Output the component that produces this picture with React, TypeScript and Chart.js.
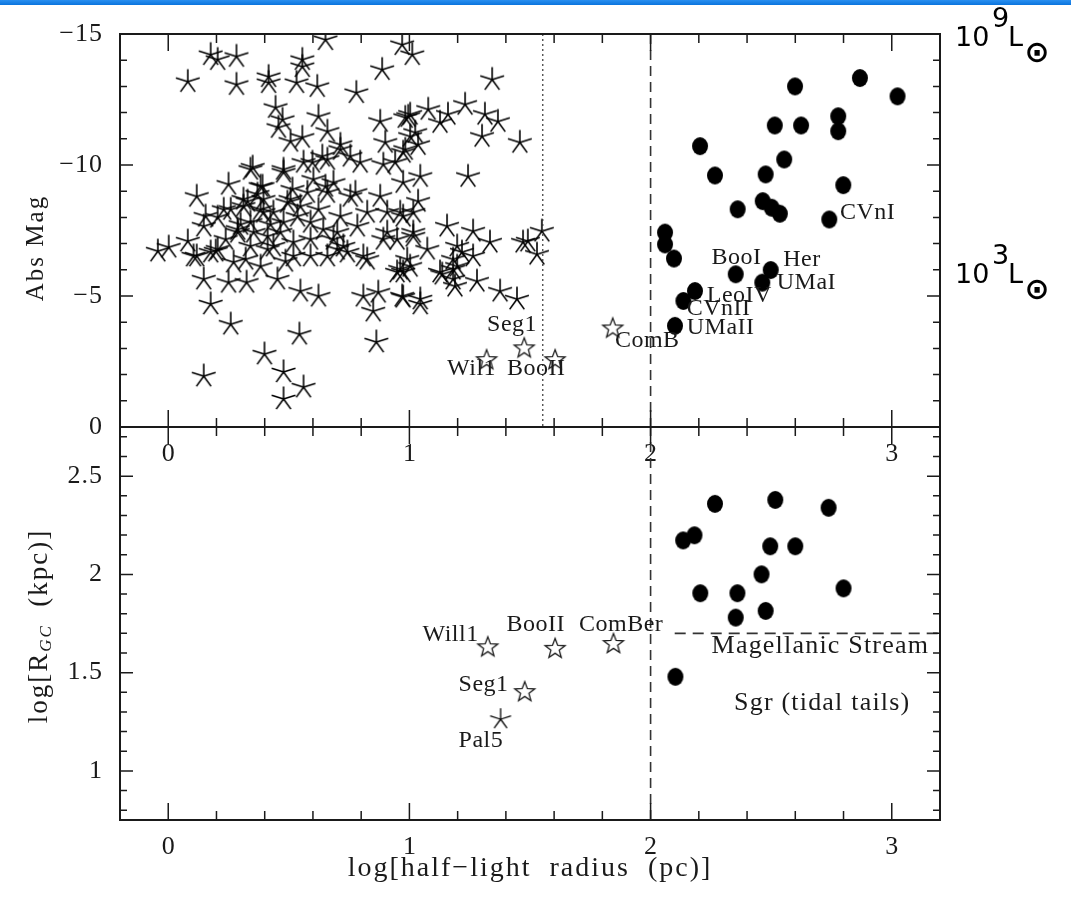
import React, { useEffect, useRef } from 'react';
import { Chart, registerables } from 'chart.js';

Chart.register(...registerables);

const SERIF = "'Liberation Serif', 'DejaVu Serif', serif";
const SANS = "'DejaVu Sans', sans-serif";

// ---------- axes ----------
const X_MIN = -0.2;
const X_MAX = 3.2;
const MAG_MIN = -15;
const MAG_MAX = 0;
const RGC_MIN = 0.75;
const RGC_MAX = 2.75;
const xTickLabels = [0, 1, 2, 3];
const magTickLabels = [-15, -10, -5, 0];
const rgcTickLabels = [1, 1.5, 2, 2.5];

// ---------- top panel: globular clusters (asterisks) ----------
const gcSize = [
  0.081, 0.176, 0.205, 0.283, 0.283, 0.416, 0.416, 0.532, 0.556, 0.556,
  0.618, 0.652, 0.780, 0.887, 0.970, 0.445, 0.474, 0.457, 0.623, 0.660,
  0.507, 0.556, 0.879, 0.714, 0.983, 0.341, 0.250, 0.118, 0.598, 0.660,
  0.755, 0.796, 0.892, 0.941, 0.478, 0.515, 0.652, 0.776, 0.879, 0.962,
  0.391, 0.329, 0.155, 0.825, 0.714, -0.043, 0.002, 0.081, 0.118, 0.147,
  0.147, 0.176, 0.259, 0.147, 0.197, 0.250, 0.325, 0.383, 0.453, 0.548,
  0.623, 0.544, 0.399, 0.478, 0.561, 0.478, 0.809, 0.871, 0.850, 0.863,
  0.974, 0.949, 0.825, 0.892, 0.949, 0.726, 0.660, 0.590, 0.519, 0.288,
  0.341, 0.395, 0.412, 0.478, 0.507, 0.536, 0.590, 0.660, 0.643, 0.714,
  0.755, 0.395, 0.312, 0.230, 0.341, 0.436, 0.590, 0.701, 0.784, 0.908,
  0.974, 0.205, 0.350, 0.383, 0.259, 0.300, 0.205, 0.176, 0.105, 0.271,
  0.478, 0.561, 0.639, 0.436, 0.577, 0.383, 0.288, 0.312, 0.519, 0.412,
  0.701, 0.354, 0.465, 0.494, 0.238, 1.003, 1.078, 1.127, 1.160, 1.231,
  1.313, 1.367, 1.301, 1.458, 1.243, 0.900, 1.003, 1.036, 0.983, 1.045,
  0.974, 1.036, 0.685, 0.908, 1.016, 1.074, 1.156, 1.264, 1.334, 1.198,
  1.264, 1.181, 1.127, 1.280, 1.189, 1.376, 1.446, 1.045, 0.962, 0.991,
  0.809, 0.743, 0.685, 1.471, 1.012, 1.343, 0.995, 1.024, 0.974, 1.016,
  1.218, 1.181, 1.198, 1.136, 1.181, 1.016, 1.003, 0.974, 0.970, 1.045,
  1.549, 1.529, 1.491, 0.424, 0.548, 0.623, 0.321, 0.486, 0.370, 0.602,
];
const gcMag = [
  -13.18, -14.21, -14.02, -14.14, -13.07, -13.37, -13.14, -13.14, -14.02, -13.75,
  -12.99, -14.78, -12.76, -13.64, -14.59, -12.19, -11.73, -11.43, -11.85, -11.28,
  -10.90, -11.05, -11.66, -10.78, -11.81, -9.83, -9.26, -8.80, -10.10, -10.21,
  -10.33, -10.10, -10.02, -10.10, -9.83, -9.07, -9.18, -8.95, -8.80, -8.19,
  -9.18, -8.61, -8.04, -8.19, -10.59, -6.71, -6.86, -7.09, -6.52, -7.66,
  -5.64, -4.69, -3.92, -1.94, -6.71, -5.52, -5.52, -6.13, -5.64, -5.18,
  -4.99, -3.54, -2.78, -2.10, -1.52, -1.07, -4.99, -5.14, -4.42, -3.24,
  -4.95, -5.91, -6.40, -7.16, -7.16, -6.90, -6.52, -6.52, -6.52, -7.54,
  -7.81, -8.19, -7.28, -7.81, -8.69, -8.04, -7.81, -8.95, -7.54, -8.04,
  -8.80, -8.69, -8.42, -8.30, -6.90, -6.90, -7.16, -7.43, -7.66, -8.19,
  -8.04, -8.00, -9.91, -9.18, -8.30, -7.73, -6.78, -6.67, -6.52, -6.29,
  -9.72, -10.10, -10.33, -8.19, -8.95, -8.30, -7.43, -8.69, -7.05, -6.78,
  -6.78, -7.43, -7.43, -8.57, -7.16, -11.93, -12.12, -11.62, -11.93, -12.31,
  -11.93, -11.66, -11.09, -10.86, -9.56, -10.86, -11.09, -10.78, -10.59, -9.56,
  -9.33, -8.61, -9.33, -7.43, -7.43, -6.78, -7.66, -7.47, -7.05, -6.90,
  -6.52, -6.02, -5.91, -5.56, -5.37, -5.18, -4.88, -4.88, -6.02, -6.40,
  -6.52, -6.67, -7.16, -7.05, -14.21, -13.26, -11.85, -11.24, -10.48, -8.19,
  -6.67, -6.40, -6.13, -5.83, -5.64, -7.28, -6.13, -5.91, -4.99, -4.69,
  -7.47, -6.59, -7.09, -7.73, -8.42, -8.30, -6.40, -6.32, -8.88, -9.45,
];

// ---------- top panel: dwarf spheroidals (filled) ----------
const dsphSizeTop = [
  2.599, 2.868, 3.024, 2.515, 2.624, 2.778, 2.778, 2.205, 2.554, 2.267,
  2.477, 2.799, 2.361, 2.465, 2.502, 2.536, 2.741, 2.060, 2.060, 2.097,
  2.353, 2.498, 2.463, 2.184, 2.136, 2.101,
];
const dsphMagTop = [
  -13.00, -13.32, -12.62, -11.51, -11.51, -11.86, -11.29, -10.72, -10.21, -9.60,
  -9.64, -9.23, -8.31, -8.62, -8.37, -8.14, -7.92, -7.42, -6.97, -6.43,
  -5.83, -5.99, -5.51, -5.19, -4.81, -3.86,
];

// ---------- top panel: ultra-faint objects (open stars) ----------
const ufdSizeTop = [1.320, 1.476, 1.604, 1.843];
const ufdMagTop = [-2.59, -3.04, -2.59, -3.80];

// ---------- top panel labels ----------
const topNames = ['Seg1', 'Wil1', 'BooII', 'ComB', 'BooI', 'Her', 'UMaI', 'LeoIV', 'CVnII', 'UMaII', 'CVnI'];
const topNameSize = [1.322, 1.156, 1.405, 1.852, 2.253, 2.550, 2.523, 2.233, 2.150, 2.150, 2.785];
const topNameMag = [-3.92, -2.21, -2.21, -3.28, -6.48, -6.37, -5.51, -5.00, -4.50, -3.80, -8.18];

// ---------- bottom panel ----------
const dsphSizeBot = [2.267, 2.517, 2.738, 2.135, 2.182, 2.496, 2.600, 2.460, 2.206, 2.360, 2.800, 2.477, 2.353, 2.103];
const dsphRgcBot = [2.359, 2.379, 2.339, 2.173, 2.199, 2.143, 2.143, 2.000, 1.904, 1.904, 1.929, 1.814, 1.780, 1.479];
const ufdSizeBot = [1.325, 1.604, 1.846, 1.478];
const ufdRgcBot = [1.634, 1.626, 1.651, 1.406];
const pal5Size = [1.378];
const pal5Rgc = [1.263];

const botNames = ['Will1', 'BooII', 'ComBer', 'Seg1', 'Pal5', 'Magellanic Stream', 'Sgr (tidal tails)'];
const botNameSize = [1.054, 1.403, 1.703, 1.204, 1.204, 2.253, 2.346];
const botNameRgc = [1.693, 1.744, 1.744, 1.440, 1.152, 1.634, 1.347];

// reference lines
const sizeDivide = 2.0;
const sizeDotted = 1.553;
const streamRgc = 1.7;
const streamSizeStart = 2.1;

// ---------- layout ----------
const W = 1071;
const H = 903;
const LEFT = 120;
const RIGHT = 940;
const TOP = 34;
const MID = 427;
const BOTTOM = 820;

function makeAsterisk(arm: number, lw: number) {
  const s = Math.ceil(arm * 2 + 6);
  const size = s % 2 ? s + 1 : s;
  const c = document.createElement('canvas');
  c.width = size; c.height = size;
  const ctx = c.getContext('2d')!;
  ctx.strokeStyle = '#000';
  ctx.lineWidth = lw;
  ctx.beginPath();
  for (let k = 0; k < 5; k++) {
    const a = -Math.PI / 2 + (k * 2 * Math.PI) / 5;
    ctx.moveTo(size / 2, size / 2);
    ctx.lineTo(size / 2 + arm * Math.cos(a), size / 2 + arm * Math.sin(a));
  }
  ctx.stroke();
  return c;
}

function makeOpenStar(R: number, r: number, lw: number) {
  const size = Math.ceil(R * 2 + 6) + (Math.ceil(R * 2 + 6) % 2);
  const c = document.createElement('canvas');
  c.width = size; c.height = size;
  const ctx = c.getContext('2d')!;
  ctx.strokeStyle = '#1a1a1a';
  ctx.lineWidth = lw;
  ctx.beginPath();
  for (let k = 0; k < 10; k++) {
    const a = -Math.PI / 2 + (k * Math.PI) / 5;
    const rr = k % 2 === 0 ? R : r;
    const px = size / 2 + rr * Math.cos(a);
    const py = size / 2 + 1 + rr * Math.sin(a);
    if (k === 0) ctx.moveTo(px, py); else ctx.lineTo(px, py);
  }
  ctx.closePath();
  ctx.stroke();
  return c;
}

function makeDot(rx: number, ry: number) {
  const size = Math.ceil(Math.max(rx, ry) * 2 + 4);
  const s2 = size % 2 ? size + 1 : size;
  const c = document.createElement('canvas');
  c.width = s2; c.height = s2;
  const ctx = c.getContext('2d')!;
  ctx.fillStyle = '#000';
  ctx.beginPath();
  ctx.ellipse(s2 / 2, s2 / 2, rx, ry, 0, 0, Math.PI * 2);
  ctx.fill();
  return c;
}

function txt(ctx: CanvasRenderingContext2D, s: string, x: number, y: number, font: string,
  align: CanvasTextAlign = 'left', baseline: CanvasTextBaseline = 'middle', spacing = 0) {
  ctx.font = font;
  (ctx as any).letterSpacing = spacing + 'px';
  ctx.textAlign = align;
  ctx.textBaseline = baseline;
  ctx.fillText(s, x, y);
  (ctx as any).letterSpacing = '0px';
}

function fmtTick(v: number) {
  return v < 0 ? '\u2212' + String(-v) : String(v);
}

function drawFrame(chart: any, yStep: number, yMajor: number) {
  const { ctx, chartArea: a } = chart;
  const xs = chart.scales.x;
  const ys = chart.scales.y;
  ctx.save();
  ctx.strokeStyle = '#1a1a1a';
  ctx.lineWidth = 1.5;
  ctx.beginPath();
  for (let i = -2; i <= 20; i++) {
    const v = i * 0.2;
    if (v <= xs.min + 1e-6 || v >= xs.max - 1e-6) continue;
    const px = xs.getPixelForValue(v);
    const major = i % 5 === 0;
    const L = major ? 17 : 9;
    ctx.moveTo(px, a.bottom); ctx.lineTo(px, a.bottom - L);
    ctx.moveTo(px, a.top); ctx.lineTo(px, a.top + L);
  }
  const n0 = Math.ceil(ys.min / yStep - 1e-6);
  const n1 = Math.floor(ys.max / yStep + 1e-6);
  for (let n = n0; n <= n1; n++) {
    const v = n * yStep;
    if (v <= ys.min + 1e-6 || v >= ys.max - 1e-6) continue;
    const py = ys.getPixelForValue(v);
    const major = Math.abs(v / yMajor - Math.round(v / yMajor)) < 1e-6;
    const L = major ? 13 : 7;
    ctx.moveTo(a.left, py); ctx.lineTo(a.left + L, py);
    ctx.moveTo(a.right, py); ctx.lineTo(a.right - L, py);
  }
  ctx.stroke();
  ctx.lineWidth = 2;
  ctx.strokeRect(a.left, a.top, a.right - a.left, a.bottom - a.top);
  ctx.restore();
}

function drawXTickLabels(chart: any) {
  const { ctx, chartArea: a } = chart;
  const xs = chart.scales.x;
  ctx.save();
  ctx.fillStyle = '#1a1a1a';
  xTickLabels.forEach((v) => {
    txt(ctx, String(v), xs.getPixelForValue(v), a.bottom + 27, `26px ${SERIF}`, 'center', 'middle');
  });
  ctx.restore();
}

function drawYTickLabels(chart: any, labels: number[]) {
  const { ctx, chartArea: a } = chart;
  const ys = chart.scales.y;
  ctx.save();
  ctx.fillStyle = '#1a1a1a';
  labels.forEach((v) => {
    txt(ctx, fmtTick(v), a.left - 17, ys.getPixelForValue(v), `26px ${SERIF}`, 'right', 'middle', 1);
  });
  ctx.restore();
}

function drawRotated(ctx: CanvasRenderingContext2D, cx: number, cy: number,
  parts: { t: string; f: string; dy: number }[], spacing: number) {
  ctx.save();
  ctx.translate(cx, cy);
  ctx.rotate(-Math.PI / 2);
  (ctx as any).letterSpacing = spacing + 'px';
  ctx.textAlign = 'left';
  ctx.textBaseline = 'middle';
  let total = 0;
  const ws = parts.map((p) => { ctx.font = p.f; const w = ctx.measureText(p.t).width; total += w; return w; });
  let x = -total / 2;
  parts.forEach((p, i) => { ctx.font = p.f; ctx.fillText(p.t, x, p.dy); x += ws[i]; });
  (ctx as any).letterSpacing = '0px';
  ctx.restore();
}

const topPlugin = {
  id: 'topDecor',
  beforeDraw(chart: any) {
    const ctx = chart.ctx;
    ctx.save();
    ctx.fillStyle = '#ffffff';
    ctx.fillRect(0, 0, chart.width, chart.height);
    const g = ctx.createLinearGradient(0, 0, 0, 5);
    g.addColorStop(0, '#2a8ff0');
    g.addColorStop(1, '#0a74dd');
    ctx.fillStyle = g;
    ctx.fillRect(0, 0, chart.width, 5);
    ctx.restore();
  },
  afterDraw(chart: any) {
    const { ctx, chartArea: a } = chart;
    const xs = chart.scales.x;
    const ys = chart.scales.y;
    drawFrame(chart, 1, 5);
    drawXTickLabels(chart);
    drawYTickLabels(chart, magTickLabels);
    ctx.save();
    ctx.fillStyle = '#1a1a1a';
    drawRotated(ctx, 36, 248, [{ t: 'Abs Mag', f: `25px ${SERIF}`, dy: 0 }], 2);
    topNames.forEach((n, i) => {
      txt(ctx, n, xs.getPixelForValue(topNameSize[i]), ys.getPixelForValue(topNameMag[i]), `24px ${SERIF}`, 'left', 'middle', 0.5);
    });
    // luminosity labels on the right
    const rx = a.right + 15;
    ctx.fillStyle = '#000';
    const lum = [{ e: '9', base: 46 }, { e: '3', base: 283 }];
    lum.forEach((l) => {
      txt(ctx, '10', rx, l.base, `27px ${SANS}`, 'left', 'alphabetic');
      txt(ctx, l.e, rx + 37, l.base - 19, `27px ${SANS}`, 'left', 'alphabetic');
      txt(ctx, 'L', rx + 53, l.base, `27px ${SANS}`, 'left', 'alphabetic');
      txt(ctx, '\u2299', rx + 82, l.base + 8, `bold 30px ${SANS}`, 'center', 'middle');
    });
    ctx.restore();
  },
};

const botPlugin = {
  id: 'botDecor',
  afterDraw(chart: any) {
    const { ctx, chartArea: a } = chart;
    const xs = chart.scales.x;
    const ys = chart.scales.y;
    drawFrame(chart, 0.1, 0.5);
    drawXTickLabels(chart);
    drawYTickLabels(chart, rgcTickLabels);
    ctx.save();
    ctx.fillStyle = '#1a1a1a';
    txt(ctx, 'log[half\u2212light  radius  (pc)]', (a.left + a.right) / 2, 869, `28px ${SERIF}`, 'center', 'middle', 2);
    drawRotated(ctx, 40, 626, [
      { t: 'log[R', f: `27px ${SERIF}`, dy: 0 },
      { t: 'GC', f: `italic 17px ${SERIF}`, dy: 7 },
      { t: '  (kpc)]', f: `27px ${SERIF}`, dy: 0 },
    ], 2);
    botNames.forEach((n, i) => {
      const long = n.length > 8;
      txt(ctx, n, xs.getPixelForValue(botNameSize[i]), ys.getPixelForValue(botNameRgc[i]),
        long ? `26px ${SERIF}` : `24px ${SERIF}`, 'left', 'middle', long ? 1.2 : 0.5);
    });
    ctx.restore();
  },
};

function pts(xs: number[], ys: number[]) {
  return xs.map((x, i) => ({ x, y: ys[i] }));
}

export default function App() {
  const topRef = useRef<HTMLCanvasElement>(null);
  const botRef = useRef<HTMLCanvasElement>(null);

  useEffect(() => {
    const asterisk = makeAsterisk(12.5, 1.6);
    const smallAsterisk = makeAsterisk(11, 1.3);
    const openStar = makeOpenStar(10.5, 4.4, 1.3);
    const dot = makeDot(8, 9);

    const commonOpts = (pad: any, yMin: number, yMax: number, reverse: boolean) => ({
      responsive: false,
      maintainAspectRatio: false,
      animation: false as const,
      devicePixelRatio: 1,
      events: [] as any[],
      layout: { padding: pad },
      plugins: { legend: { display: false }, tooltip: { enabled: false } },
      scales: {
        x: { type: 'linear' as const, min: X_MIN, max: X_MAX, display: false },
        y: { type: 'linear' as const, min: yMin, max: yMax, reverse, display: false },
      },
    });

    const lineDs = (data: any[], dash: number[], width: number) => ({
      data, showLine: true, borderColor: '#333', borderWidth: width, borderDash: dash,
      pointRadius: 0, fill: false, clip: 0,
    });

    const top = new Chart(topRef.current!, {
      type: 'scatter',
      data: {
        datasets: [
          lineDs([{ x: sizeDivide, y: MAG_MIN }, { x: sizeDivide, y: MAG_MAX }], [10, 6], 1.6),
          lineDs([{ x: sizeDotted, y: MAG_MIN }, { x: sizeDotted, y: MAG_MAX }], [2, 3], 1.2),
          { data: pts(gcSize, gcMag), pointStyle: asterisk, pointRadius: 8, clip: 0 },
          { data: pts(dsphSizeTop, dsphMagTop), pointStyle: dot, pointRadius: 8, clip: 0 },
          { data: pts(ufdSizeTop, ufdMagTop), pointStyle: openStar, pointRadius: 8, clip: 0 },
        ] as any,
      },
      options: commonOpts({ left: LEFT, right: W - RIGHT, top: TOP, bottom: H - MID }, MAG_MIN, MAG_MAX, true) as any,
      plugins: [topPlugin],
    });

    const bot = new Chart(botRef.current!, {
      type: 'scatter',
      data: {
        datasets: [
          lineDs([{ x: sizeDivide, y: RGC_MIN }, { x: sizeDivide, y: RGC_MAX }], [10, 6], 1.6),
          lineDs([{ x: streamSizeStart, y: streamRgc }, { x: X_MAX, y: streamRgc }], [11, 7], 1.6),
          { data: pts(dsphSizeBot, dsphRgcBot), pointStyle: dot, pointRadius: 8, clip: 0 },
          { data: pts(ufdSizeBot, ufdRgcBot), pointStyle: openStar, pointRadius: 8, clip: 0 },
          { data: pts(pal5Size, pal5Rgc), pointStyle: smallAsterisk, pointRadius: 8, clip: 0 },
        ] as any,
      },
      options: commonOpts({ left: LEFT, right: W - RIGHT, top: MID, bottom: H - BOTTOM }, RGC_MIN, RGC_MAX, false) as any,
      plugins: [botPlugin],
    });

    return () => { top.destroy(); bot.destroy(); };
  }, []);

  return (
    <div style={{ position: 'absolute', left: 0, top: 0, width: W, height: H, background: '#fff' }}>
      <canvas ref={topRef} width={W} height={H} style={{ position: 'absolute', left: 0, top: 0 }} />
      <canvas ref={botRef} width={W} height={H} style={{ position: 'absolute', left: 0, top: 0 }} />
    </div>
  );
}
